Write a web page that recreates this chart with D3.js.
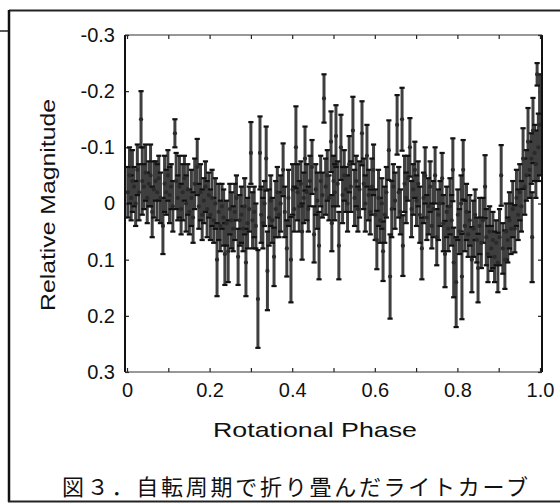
<!DOCTYPE html>
<html>
<head>
<meta charset="utf-8">
<script src="https://cdn.jsdelivr.net/npm/d3@7"></script>
<style>
  body { margin: 0; background: #fff; }
  svg { display: block; }
</style>
</head>
<body>
<div id="chart"></div>
<script>
// folded light curve: rotational phase, relative magnitude, 1-sigma error
const phase = [
  0.002,0.006,0.010,0.013,0.017,0.021,0.025,0.029,0.034,0.037,
  0.041,0.045,0.049,0.053,0.057,0.061,0.065,0.069,0.073,0.077,
  0.081,0.087,0.091,0.095,0.099,
  0.103,0.107,0.111,0.116,0.119,0.123,0.127,0.131,0.135,0.139,
  0.143,0.147,0.151,0.156,0.160,0.164,0.170,0.174,0.178,0.182,
  0.186,0.190,0.194,0.198,
  0.202,0.206,0.210,0.214,0.218,0.222,0.226,0.230,0.234,0.237,
  0.241,0.245,0.249,0.253,0.257,0.261,0.265,0.269,0.273,0.277,
  0.281,0.285,0.288,0.292,0.296,0.300,
  0.304,0.308,0.312,0.317,0.322,0.325,0.329,0.333,0.337,0.340,
  0.344,0.348,0.352,0.356,0.360,0.364,0.368,0.372,0.378,0.382,
  0.387,0.391,0.397,0.401,
  0.405,0.409,0.413,0.417,0.421,0.424,0.428,0.431,0.435,0.439,
  0.443,0.448,0.453,0.457,0.461,0.465,0.469,0.473,0.477,0.481,
  0.485,0.489,0.494,0.496,0.500,
  0.503,0.506,0.510,0.513,0.518,0.522,0.526,0.530,0.534,0.538,
  0.542,0.547,0.551,0.555,0.559,0.563,0.569,0.573,0.577,0.581,
  0.585,0.589,0.593,0.597,
  0.601,0.605,0.609,0.613,0.617,0.620,0.624,0.628,0.634,0.637,
  0.641,0.645,0.649,0.654,0.658,0.662,0.666,0.668,0.672,0.676,
  0.680,0.685,0.689,0.693,0.697,
  0.701,0.705,0.709,0.714,0.718,0.722,0.726,0.730,0.734,0.738,
  0.742,0.746,0.750,0.754,0.758,0.763,0.766,0.770,0.774,0.778,
  0.782,0.786,0.789,0.791,0.797,
  0.801,0.805,0.809,0.811,0.814,0.818,0.822,0.826,0.830,0.835,
  0.839,0.843,0.847,0.850,0.854,0.858,0.862,0.867,0.870,0.874,
  0.878,0.882,0.886,0.890,0.894,0.898,
  0.902,0.906,0.910,0.915,0.918,0.922,0.926,0.930,0.934,0.939,
  0.943,0.947,0.951,0.955,0.959,0.963,0.967,0.971,0.975,0.979,
  0.981,0.983,0.987,0.990,0.993,0.996,0.999
];
const mag = [
  -0.02,-0.05,-0.01,-0.04,-0.03,0.0,-0.06,-0.02,-0.15,-0.04,
  -0.03,-0.055,-0.01,-0.035,-0.05,0.015,-0.025,-0.04,-0.02,-0.045,
  -0.01,0.04,-0.035,-0.02,-0.05,
  -0.015,-0.03,0.005,-0.125,-0.04,-0.01,-0.03,0.01,-0.02,-0.045,
  0.0,-0.025,0.015,-0.01,0.025,-0.035,-0.065,0.005,-0.02,0.02,
  -0.005,-0.03,0.01,-0.015,
  0.02,-0.01,0.03,0.0,0.1,0.015,0.04,0.005,0.025,0.09,
  0.035,0.085,0.01,0.03,0.045,0.015,-0.01,0.095,0.03,0.02,
  0.045,0.005,0.105,0.035,0.01,-0.09,
  0.03,0.015,0.04,0.17,-0.09,0.02,0.035,0.0,-0.08,0.12,
  0.025,-0.005,0.03,0.095,0.01,-0.02,0.02,0.0,-0.06,0.015,
  0.08,-0.01,0.1,-0.025,
  0.01,-0.1,-0.02,0.005,-0.035,0.05,-0.01,-0.08,-0.02,0.01,
  -0.04,-0.065,0.055,-0.025,-0.005,0.075,-0.04,-0.015,-0.187,-0.03,
  -0.05,-0.01,-0.11,0.035,-0.04,
  -0.02,-0.12,-0.035,0.075,-0.1,-0.015,-0.05,-0.025,0.0,-0.07,
  -0.03,-0.13,-0.01,-0.04,0.01,-0.025,-0.125,-0.035,0.0,-0.085,
  -0.015,0.015,-0.03,-0.06,
  0.02,0.065,-0.01,0.03,0.0,0.085,0.02,-0.02,-0.095,0.13,
  0.01,-0.03,-0.005,-0.14,-0.02,0.015,-0.15,0.075,-0.035,-0.01,
  -0.045,-0.1,0.01,-0.025,-0.06,
  -0.005,-0.035,0.02,0.08,-0.01,-0.05,0.025,0.005,-0.03,0.04,
  0.01,-0.05,0.06,0.02,0.0,-0.045,0.035,0.09,0.015,0.045,
  0.005,0.03,-0.06,0.105,0.14,
  0.02,0.05,0.0,0.13,-0.06,0.04,0.015,0.055,0.03,0.1,
  0.045,0.02,0.065,0.115,0.04,0.07,0.03,-0.03,0.06,0.09,
  0.05,0.08,0.065,0.095,0.07,0.105,
  0.06,-0.05,0.08,0.1,0.05,0.065,0.03,0.045,0.01,0.045,
  -0.01,0.02,-0.02,0.005,-0.08,-0.03,-0.05,-0.11,-0.06,-0.08,
  0.06,-0.13,-0.09,-0.07,-0.23,-0.1,-0.14
];
const err = [
  0.045,0.05,0.04,0.055,0.035,0.04,0.045,0.05,0.05,0.06,
  0.04,0.05,0.045,0.04,0.055,0.045,0.05,0.035,0.05,0.04,
  0.045,0.05,0.05,0.04,0.045,
  0.05,0.04,0.045,0.025,0.05,0.04,0.055,0.045,0.05,0.04,
  0.05,0.045,0.04,0.05,0.045,0.045,0.05,0.04,0.05,0.045,
  0.04,0.045,0.05,0.04,
  0.045,0.05,0.04,0.045,0.065,0.05,0.045,0.04,0.05,0.055,
  0.04,0.055,0.045,0.05,0.04,0.05,0.04,0.05,0.045,0.05,
  0.04,0.05,0.06,0.045,0.04,0.055,
  0.05,0.045,0.04,0.087,0.065,0.05,0.045,0.04,0.057,0.07,
  0.05,0.045,0.04,0.052,0.05,0.045,0.04,0.05,0.047,0.045,
  0.05,0.05,0.076,0.045,
  0.04,0.073,0.05,0.045,0.04,0.05,0.045,0.057,0.05,0.04,
  0.045,0.048,0.05,0.045,0.05,0.06,0.045,0.04,0.043,0.05,
  0.045,0.04,0.054,0.05,0.045,
  0.05,0.055,0.04,0.06,0.058,0.05,0.045,0.04,0.05,0.05,
  0.045,0.06,0.05,0.045,0.04,0.05,0.057,0.045,0.05,0.055,
  0.045,0.04,0.05,0.045,
  0.045,0.052,0.05,0.04,0.045,0.053,0.05,0.045,0.053,0.075,
  0.05,0.04,0.05,0.053,0.045,0.04,0.056,0.054,0.05,0.045,
  0.04,0.052,0.05,0.045,0.05,
  0.045,0.04,0.05,0.055,0.045,0.05,0.04,0.05,0.045,0.04,
  0.05,0.05,0.05,0.045,0.04,0.045,0.05,0.059,0.045,0.04,
  0.05,0.045,0.056,0.062,0.08,
  0.045,0.04,0.05,0.076,0.053,0.045,0.05,0.04,0.045,0.058,
  0.05,0.045,0.04,0.061,0.05,0.045,0.04,0.056,0.05,0.05,
  0.045,0.04,0.05,0.045,0.04,0.053,
  0.05,0.054,0.045,0.052,0.05,0.04,0.05,0.045,0.05,0.042,
  0.05,0.045,0.05,0.045,0.054,0.05,0.045,0.06,0.05,0.045,
  0.08,0.058,0.05,0.06,0.02,0.06,0.09
];

const xTicks = [0, 0.1, 0.2, 0.3, 0.4, 0.5, 0.6, 0.7, 0.8, 0.9, 1.0];
const xLabelValues = [0, 0.2, 0.4, 0.6, 0.8, 1.0];
const xLabels = ["0", "0.2", "0.4", "0.6", "0.8", "1.0"];
const yTicks = [-0.3, -0.2, -0.1, 0, 0.1, 0.2, 0.3];
const yLabels = ["-0.3", "-0.2", "-0.1", "0", "0.1", "0.2", "0.3"];

const xTitle = "Rotational Phase";
const yTitle = "Relative Magnitude";
const caption = "図３．自転周期で折り畳んだライトカーブ";

const W = 560, H = 503;
const plot = {left: 125, right: 542, top: 35, bottom: 372};
const font = "'Liberation Sans', Arial, Helvetica, sans-serif";

const svg = d3.select("#chart")
    .append("svg")
    .attr("width", W)
    .attr("height", H);

// outer figure box (scanned page frame)
const box = svg.append("g").attr("fill", "none");
box.append("line").attr("x1", 9).attr("x2", 560).attr("y1", 10.5).attr("y2", 10.5)
    .attr("stroke", "#222").attr("stroke-width", 2);
box.append("line").attr("x1", 9).attr("x2", 9).attr("y1", 10).attr("y2", 502)
    .attr("stroke", "#111").attr("stroke-width", 2.5);
box.append("line").attr("x1", 8).attr("x2", 560).attr("y1", 501.5).attr("y2", 501.5)
    .attr("stroke", "#222").attr("stroke-width", 2.2);
box.append("line").attr("x1", 0).attr("x2", 8).attr("y1", 31).attr("y2", 31)
    .attr("stroke", "#222").attr("stroke-width", 1.5);

// scales
const x = d3.scaleLinear()
    .domain([0, 1])
    .range([127, 540]);
const y = d3.scaleLinear()
    .domain([-0.3, 0.3])
    .range([plot.top, plot.bottom]);

const labelOf = d => {
    const i = xLabelValues.findIndex(v => Math.abs(v - d) < 1e-9);
    return i < 0 ? "" : xLabels[i];
};

// axes, ticks pointing inward
const styleAxis = g => {
    g.select(".domain").remove();
    g.selectAll(".tick line").attr("stroke", "#222").attr("stroke-width", 1.2);
    g.selectAll(".tick text")
        .attr("fill", "#111")
        .style("font-family", font)
        .style("font-size", "20px");
};

svg.append("g")
    .attr("transform", `translate(0, ${plot.bottom})`)
    .call(d3.axisBottom(x).tickValues(xTicks).tickSizeInner(-4).tickSizeOuter(0)
        .tickPadding(11).tickFormat(labelOf))
    .call(styleAxis);

svg.append("g")
    .attr("transform", `translate(0, ${plot.top})`)
    .call(d3.axisTop(x).tickValues(xTicks).tickSizeInner(-4).tickSizeOuter(0).tickFormat(""))
    .call(styleAxis);

svg.append("g")
    .attr("transform", `translate(${plot.left}, 0)`)
    .call(d3.axisLeft(y).tickValues(yTicks).tickSizeInner(-4).tickSizeOuter(0)
        .tickPadding(10).tickFormat((d, i) => yLabels[i]))
    .call(styleAxis);

svg.append("g")
    .attr("transform", `translate(${plot.right}, 0)`)
    .call(d3.axisRight(y).tickValues(yTicks).tickSizeInner(-4).tickSizeOuter(0).tickFormat(""))
    .call(styleAxis);

// data: error bars with caps and dots
const data = phase.map((p, i) => ({p: p, m: mag[i], e: err[i]}));
const marks = svg.append("g");

marks.selectAll("line.stem")
    .data(data)
    .join("line")
    .attr("class", "stem")
    .attr("x1", d => x(d.p)).attr("x2", d => x(d.p))
    .attr("y1", d => y(d.m - d.e)).attr("y2", d => y(d.m + d.e))
    .attr("stroke", "#3f3f3f")
    .attr("stroke-width", 3);

["lo", "hi"].forEach(end => {
    marks.selectAll("line.cap-" + end)
        .data(data)
        .join("line")
        .attr("class", "cap-" + end)
        .attr("x1", d => x(d.p) - 2.6).attr("x2", d => x(d.p) + 2.6)
        .attr("y1", d => y(end === "lo" ? d.m - d.e : d.m + d.e))
        .attr("y2", d => y(end === "lo" ? d.m - d.e : d.m + d.e))
        .attr("stroke", "#111")
        .attr("stroke-width", 2.2);
});

marks.selectAll("circle")
    .data(data)
    .join("circle")
    .attr("cx", d => x(d.p))
    .attr("cy", d => y(d.m))
    .attr("r", 2.1)
    .attr("fill", "#2a2a2a");

// plot frame
const frame = svg.append("g").attr("fill", "none");
frame.append("line").attr("x1", plot.left).attr("x2", plot.left)
    .attr("y1", plot.top).attr("y2", plot.bottom).attr("stroke", "#111").attr("stroke-width", 2);
frame.append("line").attr("x1", plot.right).attr("x2", plot.right)
    .attr("y1", plot.top).attr("y2", plot.bottom).attr("stroke", "#111").attr("stroke-width", 2);
frame.append("line").attr("x1", plot.left).attr("x2", plot.right)
    .attr("y1", plot.top).attr("y2", plot.top).attr("stroke", "#333").attr("stroke-width", 1.2);
frame.append("line").attr("x1", plot.left).attr("x2", plot.right)
    .attr("y1", plot.bottom).attr("y2", plot.bottom).attr("stroke", "#333").attr("stroke-width", 1.2);

// axis titles
svg.append("text")
    .attr("x", 315)
    .attr("y", 437)
    .attr("text-anchor", "middle")
    .attr("textLength", 204)
    .attr("lengthAdjust", "spacingAndGlyphs")
    .style("font-family", font)
    .style("font-size", "21px")
    .attr("fill", "#111")
    .text(xTitle);

svg.append("text")
    .attr("transform", "translate(55, 205) rotate(-90)")
    .attr("text-anchor", "middle")
    .attr("textLength", 212)
    .attr("lengthAdjust", "spacingAndGlyphs")
    .style("font-family", font)
    .style("font-size", "21px")
    .attr("fill", "#111")
    .text(yTitle);

// figure caption
svg.append("text")
    .attr("x", 62)
    .attr("y", 495)
    .attr("textLength", 466)
    .attr("lengthAdjust", "spacing")
    .style("font-family", "'Noto Sans CJK JP', 'Noto Sans CJK SC', sans-serif")
    .style("font-size", "22px")
    .attr("fill", "#111")
    .text(caption);
</script>
</body>
</html>
